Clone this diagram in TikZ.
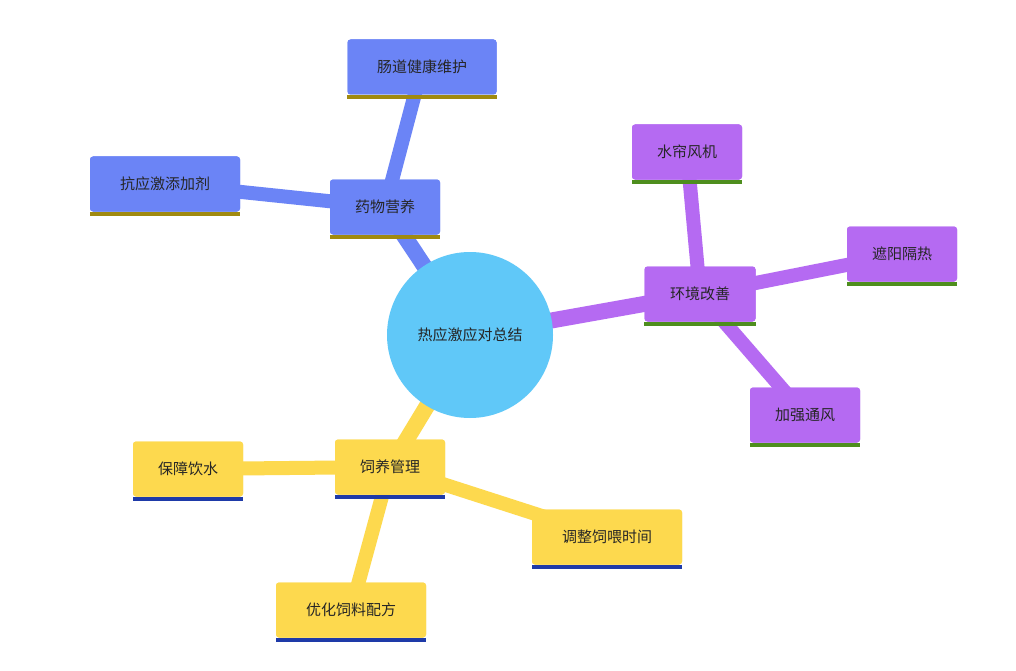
\documentclass[tikz,border=0pt]{standalone}
\usepackage{fontspec}
\newfontfamily\cjk{Noto Sans CJK SC}
\definecolor{cblue}{HTML}{6B84F6}
\definecolor{cpurp}{HTML}{B56AF2}
\definecolor{cyell}{HTML}{FDD94E}
\definecolor{ccirc}{HTML}{60C8F8}
\definecolor{lblue}{HTML}{A08A10}
\definecolor{lpurp}{HTML}{4E8E1E}
\definecolor{lyell}{HTML}{1E3AA8}
\begin{document}
\begin{tikzpicture}[x=1pt,y=-1pt,
 box/.style={rectangle,rounded corners=3pt,minimum height=55pt,inner xsep=14pt,font=\cjk\fontsize{15}{18}\selectfont,text=black!85},
 bb/.style={box,fill=cblue},pb/.style={box,fill=cpurp},yb/.style={box,fill=cyell},
 eb/.style={cblue,line width=14pt},ep/.style={cpurp,line width=14pt},ey/.style={cyell,line width=14pt}]
\useasboundingbox (0,0) rectangle (1016,671);
\fill[white] (0,0) rectangle (1016,671);
% nodes (positions)
\coordinate (c) at (470,335);
\node[bb,minimum width=110pt] (m1) at (385,207) {药物营养};
\node[bb,minimum width=149pt] (b1) at (422,67) {肠道健康维护};
\node[bb,minimum width=150pt] (b2) at (165,184) {抗应激添加剂};
\node[pb,minimum width=111pt] (m2) at (700,294) {环境改善};
\node[pb,minimum width=110pt] (p1) at (687,152) {水帘风机};
\node[pb,minimum width=110pt] (p2) at (902,254) {遮阳隔热};
\node[pb,minimum width=110pt] (p3) at (805,415) {加强通风};
\node[yb,minimum width=110pt] (m3) at (390,467) {饲养管理};
\node[yb,minimum width=110pt] (y1) at (188,469) {保障饮水};
\node[yb,minimum width=150pt] (y2) at (607,537) {调整饲喂时间};
\node[yb,minimum width=150pt] (y3) at (351,610) {优化饲料配方};
% edges behind
\begin{scope}[on background layer/.try]
\end{scope}
\draw[eb,line width=16pt] (c) -- (m1.center);
\draw[eb] (m1.center) -- (b1.center);
\draw[eb] (m1.center) -- (b2.center);
\draw[ep,line width=16pt] (c) -- (m2.center);
\draw[ep] (m2.center) -- (p1.center);
\draw[ep] (m2.center) -- (p2.center);
\draw[ep] (m2.center) -- (p3.center);
\draw[ey,line width=16pt] (c) -- (m3.center);
\draw[ey] (m3.center) -- (y1.center);
\draw[ey] (m3.center) -- (y2.center);
\draw[ey] (m3.center) -- (y3.center);
% redraw nodes on top
\foreach \n/\s/\l in {m1/bb/lblue,b1/bb/lblue,b2/bb/lblue,m2/pb/lpurp,p1/pb/lpurp,p2/pb/lpurp,p3/pb/lpurp,m3/yb/lyell,y1/yb/lyell,y2/yb/lyell,y3/yb/lyell}{
  \fill[\l] (\n.south west) rectangle ([yshift=-4pt]\n.south east);
}
\node[bb,minimum width=110pt] at (m1) {药物营养};
\node[bb,minimum width=149pt] at (b1) {肠道健康维护};
\node[bb,minimum width=150pt] at (b2) {抗应激添加剂};
\node[pb,minimum width=111pt] at (m2) {环境改善};
\node[pb,minimum width=110pt] at (p1) {水帘风机};
\node[pb,minimum width=110pt] at (p2) {遮阳隔热};
\node[pb,minimum width=110pt] at (p3) {加强通风};
\node[yb,minimum width=110pt] at (m3) {饲养管理};
\node[yb,minimum width=110pt] at (y1) {保障饮水};
\node[yb,minimum width=150pt] at (y2) {调整饲喂时间};
\node[yb,minimum width=150pt] at (y3) {优化饲料配方};
\foreach \n/\l in {m1/lblue,b1/lblue,b2/lblue,m2/lpurp,p1/lpurp,p2/lpurp,p3/lpurp,m3/lyell,y1/lyell,y2/lyell,y3/lyell}{
  \fill[\l] ([yshift=-4pt]\n.south west) rectangle (\n.south east);
}
\node[circle,fill=ccirc,minimum size=166pt,font=\cjk\fontsize{15}{18}\selectfont,text=black!85] (ctr) at (c) {热应激应对总结};
\end{tikzpicture}
\end{document}
